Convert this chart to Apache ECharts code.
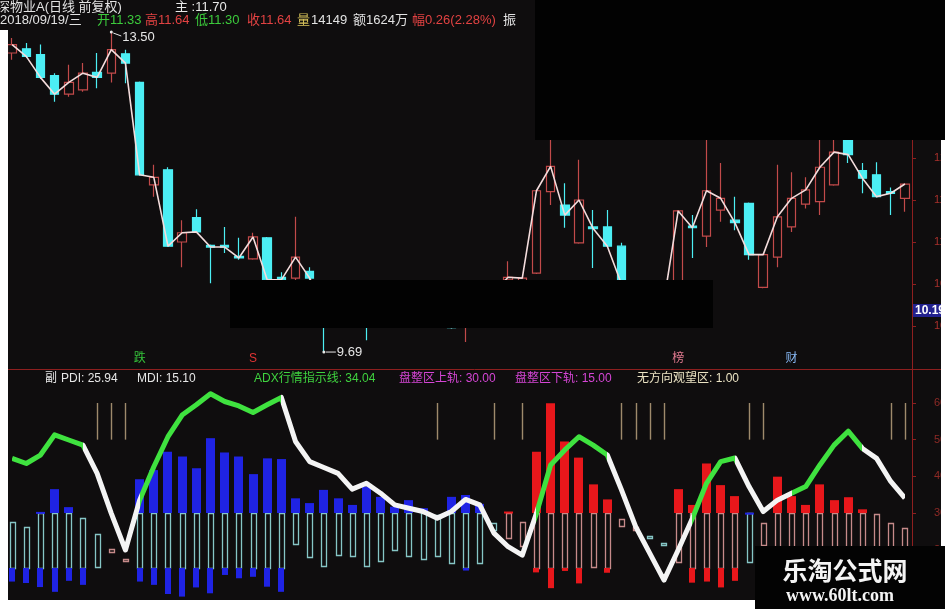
<!DOCTYPE html>
<html><head><meta charset="utf-8">
<script src="https://cdn.jsdelivr.net/npm/echarts@6/dist/echarts.min.js"></script>
<style>html,body{margin:0;padding:0;background:#ffffff;}#c{width:945px;height:609px;}</style>
</head><body><div id="c"></div>
<script>
// ---------- data ----------
const categories = Array.from({length: 64}, (_, i) => 'D' + (i + 1));
const opens  = [13.25,13.30,13.23,12.98,12.76,12.81,13.02,13.01,13.24,12.90,11.68,11.86,11.00,11.29,10.96,10.96,10.83,10.80,11.05,10.58,10.57,10.65,10.52,10.20,10.30,10.15,10.05,10.25,10.35,10.22,10.10,9.99,10.00,10.20,10.28,10.55,10.40,10.63,11.60,11.44,10.99,11.18,11.18,10.95,10.50,10.35,10.20,10.30,11.19,11.07,11.38,11.26,11.46,10.46,10.82,11.18,11.45,11.48,11.68,12.25,11.85,11.80,11.60,11.52];
const closes = [13.35,13.21,12.96,12.76,12.90,13.01,12.96,13.29,13.13,11.80,11.77,10.95,11.11,11.12,10.94,10.94,10.81,11.06,10.55,10.55,10.82,10.57,10.20,10.30,10.15,10.05,10.25,10.35,10.22,10.10,10.18,9.98,10.20,10.28,10.40,10.58,10.57,11.61,11.90,11.32,11.50,11.16,10.95,10.50,10.35,10.20,10.30,11.37,11.17,11.61,11.52,11.23,10.85,10.85,11.30,11.52,11.62,11.89,12.07,12.04,11.76,11.54,11.58,11.69];
const lows   = [13.17,13.19,12.94,12.67,12.73,12.79,12.83,12.90,12.89,11.79,11.54,10.94,10.70,11.11,10.51,10.87,10.79,10.79,10.48,10.40,10.50,10.45,9.69,10.10,10.05,9.83,10.00,10.15,10.12,10.02,10.05,9.97,9.81,10.10,10.20,10.35,10.35,10.62,11.44,11.17,10.98,10.69,10.94,10.45,10.25,10.10,10.05,10.25,10.81,10.94,11.24,11.14,10.79,10.45,10.70,11.12,11.40,11.32,11.67,11.94,11.58,11.53,11.32,11.36];
const highs  = [13.43,13.37,13.35,13.01,13.11,13.13,13.25,13.50,13.29,12.91,11.92,11.89,11.26,11.39,10.97,11.18,11.05,11.11,11.06,10.64,11.30,10.70,10.54,10.40,10.38,10.25,10.35,10.45,10.42,10.30,10.28,10.15,10.30,10.40,10.50,10.77,10.57,11.62,12.30,11.70,11.98,11.38,11.38,10.99,10.54,10.45,10.40,11.38,11.32,12.30,11.94,11.54,11.47,10.86,11.92,11.83,11.77,12.30,12.30,12.35,11.94,11.95,11.65,11.70];

const pdi = [11.3,10.9,9.8,8.5,11.5,10.4,15.2,20.1,17.5,11.3,10.4,7.9,7.2,9.7,8.1,13.1,12.2,12.6,9.9,8.5,21.5,18.1,15.5,18.5,18.4,15.5,17.0,19.9,18.4,17.4,18.4,16.3,14.3,16.5,25.4,30.4,27.6,46.7,59.9,49.5,45.1,37.8,33.7,28.3,26.3,23.3,21.4,36.5,32.2,43.5,37.6,34.6,16.7,27.2,39.9,34.6,32.2,37.8,33.5,34.3,31.0,29.7,27.4,25.94];
const mdi = [27.6,26.3,30.3,36.5,31.6,28.5,24.3,19.4,17.0,39.2,41.7,46.7,45.4,42.2,50.4,46.5,45.4,40.6,44.9,44.7,34.0,32.7,36.3,34.0,32.2,37.2,34.4,31.7,33.5,31.3,29.5,34.4,34.9,32.5,27.4,23.1,21.0,13.8,9.5,14.2,10.8,15.4,13.7,26.3,25.4,23.8,21.9,16.7,11.0,11.3,9.7,11.5,30.1,21.3,14.5,16.0,17.0,14.0,15.5,14.8,16.0,16.5,15.8,15.10];
const adx = [44.9,43.5,45.8,51.3,49.9,48.5,40.8,29.9,19.9,33.5,42.6,50.8,56.7,59.5,62.5,60.4,59.2,57.4,59.5,61.5,49.5,44.0,42.4,40.8,36.5,38.1,35.4,32.2,31.3,30.4,28.6,30.4,33.7,32.2,24.5,20.8,18.5,29.9,43.1,47.2,50.8,48.5,45.8,36.3,26.3,19.0,11.7,19.9,28.5,38.1,44.0,45.0,37.2,30.4,33.5,35.4,37.2,43.1,48.5,52.3,47.6,44.9,38.6,34.04];
const adxRisingRanges = [[0,5],[9,19],[37,42],[48,51],[55,60]];
const watchIdx = [6,7,8,30,34,36,43,44,45,46,52,53,62,63];
const upperBand = 30, lowerBand = 15, watchLo = 50, watchHi = 60;
const eventMarks = [{idx:9,text:'跌',color:'#35c23a'},{idx:17,text:'S',color:'#e03434'},{idx:47,text:'榜',color:'#e27a90'},{idx:55,text:'财',color:'#86b6f2'}];
const priceHigh = {idx:7, value:13.50};
const priceLow = {idx:22, value:9.69};
const cursorPrice = 10.19;

// ---------- derived drawing tables ----------
const candleData = opens.map((o,i)=>[o, closes[i], lows[i], highs[i]]);
const clamp = (v,a,b)=>Math.max(a,Math.min(b,v));
const hollowData = [], upData = [], downData = [];
pdi.forEach((p,i)=>{
  const m = mdi[i], hi = Math.max(p,m), lo = Math.min(p,m), f = p>m?1:0;
  const h1 = clamp(hi,lowerBand,upperBand), l1 = clamp(lo,lowerBand,upperBand);
  if (h1 - l1 > 0.05) hollowData.push([i,l1,h1,f]);
  if (hi > upperBand) upData.push([i,upperBand,hi,f]);
  if (lo < lowerBand) downData.push([i,lo,lowerBand,f]);
});
const watchData = watchIdx.map(i=>[i,watchLo,watchHi]);
const adxData = adx.map((v,i)=>[i,v]);
const GREEN='#3fe23f', WHITE='#f4f4f4';
const pieces = [];
let last = 0;
adxRisingRanges.forEach(([a,b])=>{
  if (a > last) pieces.push({gt:last, lt:a, color:WHITE});
  pieces.push({gte:a, lte:b, color:GREEN});
  last = b;
});
pieces.push({gt:last, lte:63, color:WHITE});

function rectRender(ratio, hollow){
  return function(params, api){
    const i = api.value(0), lo = api.value(1), hi = api.value(2), f = api.value(3);
    const t = api.coord([i,hi]), b = api.coord([i,lo]);
    const w = Math.round(api.size([1,0])[0]*ratio);
    let h = b[1]-t[1]; if (h < 2) h = 2;
    const x = Math.round(t[0]-w/2);
    if (hollow) {
      return {type:'rect', shape:{x:x+0.5, y:Math.round(t[1])+0.5, width:w, height:Math.round(h)},
        style:{fill:null, stroke: f ? '#c68a8a' : '#86c6c6', lineWidth:1.3}};
    }
    return {type:'rect', shape:{x:x, y:t[1], width:w, height:h},
      style:{fill: f ? '#e8171b' : '#1f23e4'}};
  };
}
function vlineRender(params, api){
  const i = api.value(0);
  const a = api.coord([i, api.value(1)]), b = api.coord([i, api.value(2)]);
  const x = Math.round(a[0]) + 0.5;
  return {type:'line', shape:{x1:x, y1:a[1], x2:x, y2:b[1]}, style:{stroke:'#9e8a6c', lineWidth:1.4}};
}

const BG = '#0f0d0e', AX = '#8e1f1f';
const option = {
  animation:false,
  backgroundColor: BG,
  textStyle:{fontFamily:'"Liberation Sans","Noto Sans CJK SC",sans-serif'},
  grid:[
    {left:5, right:33, top:32, height:336, containLabel:false, outerBoundsMode:'none'},
    {left:5, right:33, top:366.3, height:256.7, containLabel:false, outerBoundsMode:'none'}
  ],
  xAxis:[
    {type:'category', data:categories, gridIndex:0, boundaryGap:true, show:false},
    {type:'category', data:categories, gridIndex:1, boundaryGap:true, show:false}
  ],
  yAxis:[
    {type:'value', gridIndex:0, position:'right', min:9.5, max:13.5, interval:0.5, scale:true,
     axisLine:{show:true, lineStyle:{color:AX, width:1}}, axisTick:{show:true, length:4, lineStyle:{color:AX}},
     splitLine:{show:false}, axisLabel:{show:true, margin:22, color:'#a8302c', fontSize:11, showMinLabel:false, formatter:v=>v.toFixed(2)}},
    {type:'value', gridIndex:1, position:'right', min:0, max:70, interval:10,
     axisLine:{show:true, lineStyle:{color:AX, width:1}}, axisTick:{show:true, length:4, lineStyle:{color:AX}},
     splitLine:{show:false}, axisLabel:{show:true, margin:22, color:'#8e2a26', fontSize:11, showMaxLabel:false, formatter:v=>v.toFixed(2)}}
  ],
  visualMap:[{type:'piecewise', show:false, dimension:0, seriesIndex:6, pieces:pieces}],
  series:[
    {type:'candlestick', xAxisIndex:0, yAxisIndex:0, data:candleData, barWidth:9,
     itemStyle:{color:BG, color0:'#4ceef4', borderColor:'#c24a4a', borderColor0:'#4ceef4', borderWidth:1.2}},
    {type:'line', xAxisIndex:0, yAxisIndex:0, data:closes, symbol:'none', z:5,
     lineStyle:{color:'#f3dcdc', width:1.6}},
    {type:'custom', xAxisIndex:1, yAxisIndex:1, data:hollowData, renderItem:rectRender(0.36,true), z:2},
    {type:'custom', xAxisIndex:1, yAxisIndex:1, data:upData, renderItem:rectRender(0.6,false), z:3},
    {type:'custom', xAxisIndex:1, yAxisIndex:1, data:downData, renderItem:rectRender(0.42,false), z:3},
    {type:'custom', xAxisIndex:1, yAxisIndex:1, data:watchData, renderItem:vlineRender, z:3},
    {type:'line', xAxisIndex:1, yAxisIndex:1, data:adxData, symbol:'none', z:6,
     lineStyle:{width:5, join:'round'}}
  ]
};
const chart = echarts.init(document.getElementById('c'), null, {renderer:'canvas'});
chart.setOption(option);

// ---------- overlays ----------
const px = (g,i,v)=>chart.convertToPixel({gridIndex:g},[i,v]);
const F = (s,b)=> (b?'bold ':'') + s + 'px "Liberation Sans","Noto Sans CJK SC",sans-serif';
const txt = (x,y,t,color,size,extra)=>Object.assign({type:'text', z:200, style:{x:x, y:y, text:t, fill:color, font:F(size||13), textAlign:'left', textVerticalAlign:'middle'}}, extra||{});
const g = [];
// redaction boxes
g.push({type:'rect', z:150, shape:{x:535,y:0,width:410,height:140}, style:{fill:'#020202'}});
g.push({type:'rect', z:150, shape:{x:230,y:280,width:483,height:48}, style:{fill:'#020202'}});
// separator
g.push({type:'line', z:120, shape:{x1:8,y1:369.5,x2:941,y2:369.5}, style:{stroke:AX, lineWidth:1}});
// header lines
g.push(txt(-3,7,'深物业A(日线 前复权)','#e2e2e2',13));
g.push(txt(175,7,'主 :11.70','#e8e8e8',13));
const hdr = [[0,'2018/09/19/三','#e2e2e2'],[97,'开11.33','#3ccb3c'],[145,'高11.64','#e24242'],[195,'低11.30','#3ccb3c'],[247,'收11.64','#e24242'],[297,'量','#d6c25a'],[311,'14149','#e2e2e2'],[353,'额1624万','#e2e2e2'],[412,'幅0.26(2.28%)','#e24242'],[503,'振','#e2e2e2']];
hdr.forEach(h=>g.push(txt(h[0],20,h[1],h[2],13)));
// high / low labels
const hp = px(0,priceHigh.idx,priceHigh.value);
g.push({type:'circle', z:160, shape:{cx:hp[0], cy:hp[1], r:1.5}, style:{fill:'#e8e8e8'}});
g.push({type:'polyline', z:160, shape:{points:[[hp[0]+2,hp[1]+1],[hp[0]+10,hp[1]+4]]}, style:{stroke:'#e8e8e8', lineWidth:1}});
g.push(txt(hp[0]+11, hp[1]+5, priceHigh.value.toFixed(2), '#e6e6e6', 13));
const lp = px(0,priceLow.idx,priceLow.value);
g.push({type:'circle', z:160, shape:{cx:lp[0], cy:lp[1], r:1.5}, style:{fill:'#e8e8e8'}});
g.push({type:'line', z:160, shape:{x1:lp[0]+2,y1:lp[1],x2:lp[0]+12,y2:lp[1]}, style:{stroke:'#e8e8e8', lineWidth:1}});
g.push(txt(lp[0]+13, lp[1], priceLow.value.toFixed(2), '#e6e6e6', 13));
// event marks
eventMarks.forEach(e=>{ const p = px(0,e.idx,9.5); const t = txt(p[0],359,e.text,e.color,12); t.style.textAlign='center'; g.push(t); });
// cursor price label
const cp = px(0,0,cursorPrice);
g.push({type:'rect', z:160, shape:{x:913,y:Math.round(cp[1])-6,width:28,height:13}, style:{fill:'#22218e'}});
const ct = txt(915, cp[1]+0.5, cursorPrice.toFixed(2), '#ffffff', 12); ct.style.font = F(12,true); g.push(ct);
// sub header
const sub = [[45,'副','#e6e6e6'],[61,'PDI: 25.94','#e6e6e6'],[137,'MDI: 15.10','#e6e6e6'],[254,'ADX行情指示线: 34.04','#3fd23f'],[399,'盘整区上轨: 30.00','#d545d5'],[515,'盘整区下轨: 15.00','#d545d5'],[637,'无方向观望区: 1.00','#ece4c4']];
sub.forEach(s=>g.push(txt(s[0],379,s[1],s[2],12)));
// white photo borders
g.push({type:'rect', z:180, shape:{x:0,y:30,width:8,height:579}, style:{fill:'#ffffff'}});
g.push({type:'rect', z:180, shape:{x:0,y:600,width:755,height:9}, style:{fill:'#ffffff'}});
g.push({type:'rect', z:180, shape:{x:941,y:140,width:4,height:406}, style:{fill:'#ffffff'}});
// watermark
g.push({type:'rect', z:190, shape:{x:755,y:546,width:190,height:63}, style:{fill:'#030303'}});
g.push({type:'text', z:200, style:{x:845,y:570,text:'乐淘公式网',fill:'#f4f4f4',font:'bold 25px "Noto Sans CJK SC",sans-serif',textAlign:'center',textVerticalAlign:'middle'}});
g.push({type:'text', z:200, style:{x:840,y:596,text:'www.60lt.com',fill:'#f4f4f4',font:'bold 18px "Liberation Serif",serif',textAlign:'center',textVerticalAlign:'middle'}});
chart.setOption({graphic:{elements:g}});
</script></body></html>
